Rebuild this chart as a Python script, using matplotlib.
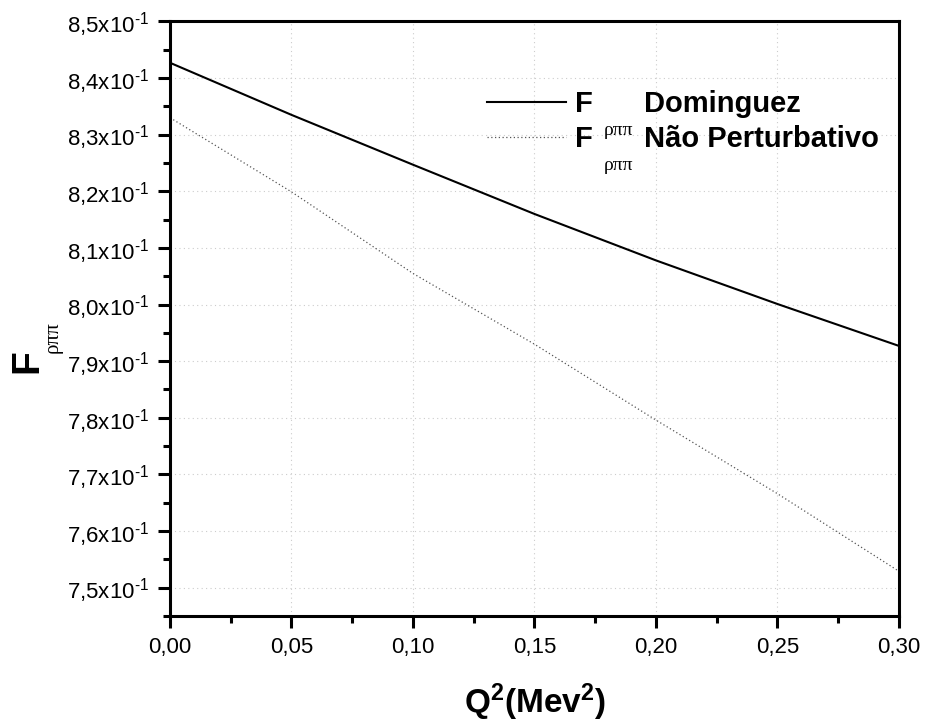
import matplotlib
matplotlib.use("Agg")
import matplotlib.pyplot as plt
from matplotlib.ticker import MultipleLocator, FuncFormatter

# dados
q2 = [0.00, 0.05, 0.10, 0.15, 0.20, 0.25, 0.30]
f_dominguez = [0.8427, 0.8335, 0.8247, 0.8160, 0.8078, 0.8001, 0.7927]
f_nao_pert = [0.8330, 0.8199, 0.8055, 0.7930, 0.7796, 0.7666, 0.7529]
nomes = ['Dominguez', 'Não Perturbativo']

plt.rcParams['font.family'] = ['Liberation Sans', 'DejaVu Sans']
plt.rcParams['mathtext.fontset'] = 'custom'
plt.rcParams['mathtext.rm'] = 'Liberation Sans'
plt.rcParams['mathtext.it'] = 'Liberation Sans:italic'
plt.rcParams['mathtext.bf'] = 'Liberation Sans:bold'
plt.rcParams['mathtext.sf'] = 'Liberation Sans'

fig = plt.figure(figsize=(9.25, 7.27), dpi=100)
ax = fig.add_axes([0.1838, 0.1527, 0.788, 0.8178])

ax.plot(q2, f_dominguez, color='black', lw=1.5, label=nomes[0])
ax.plot(q2, f_nao_pert, color='#555555', lw=0.9, linestyle=(0, (1, 2)), label=nomes[1])

ax.set_xlim(0, 0.30)
ax.set_ylim(0.745, 0.85)

ax.xaxis.set_major_locator(MultipleLocator(0.05))
ax.xaxis.set_minor_locator(MultipleLocator(0.025))
ax.yaxis.set_major_locator(MultipleLocator(0.01))
ax.yaxis.set_minor_locator(MultipleLocator(0.005))

ax.xaxis.set_major_formatter(FuncFormatter(lambda v, p: f"{v:.2f}".replace('.', ',')))
ax.yaxis.set_major_formatter(FuncFormatter(
    lambda v, p: f"{v*10:.1f}".replace('.', ',') + r"x10$^{\text{-1}}$"))

ax.tick_params(axis='both', which='major', direction='out', length=8.6, width=2.2,
               labelsize=16, top=False, right=False)
ax.tick_params(axis='both', which='minor', direction='out', length=5, width=2.2,
               top=False, right=False)
ax.tick_params(axis='x', pad=6.5)
ax.tick_params(axis='y', pad=6.5)

for side in ['left', 'bottom', 'top', 'right']:
    ax.spines[side].set_linewidth(2.2)

ax.grid(True, which='major', color='#cccccc', linestyle=(0, (1, 3)), lw=0.8)

ax.set_xlabel(r'Q$^{\mathbf{2}}$(Mev$^{\mathbf{2}}$)', fontsize=24, fontweight='bold', labelpad=17)

# rótulo do eixo y: F com índice ρππ bem abaixo
ax.text(-0.182, 0.409, 'F', transform=ax.transAxes, rotation=90, rotation_mode='anchor',
        ha='left', va='baseline', fontsize=28, fontweight='bold')
ax.text(-0.1536, 0.442, 'ρππ', transform=ax.transAxes, rotation=90, rotation_mode='anchor',
        ha='left', va='baseline', fontsize=15, family=['Liberation Serif', 'DejaVu Serif'])

leg = ax.legend(loc='upper left', bbox_to_anchor=(0.435, 0.885), frameon=False,
                fontsize=21, handlelength=2.69, handletextpad=2.69, labelspacing=0.25,
                borderpad=0, borderaxespad=0)
for t in leg.get_texts():
    t.set_fontweight('bold')
    ax.annotate('F', xy=(0, 0), xycoords=t, xytext=(-69, 0), textcoords='offset pixels',
                ha='left', va='bottom', fontsize=21, fontweight='bold', zorder=6)
    ax.annotate('ρππ', xy=(0, 0), xycoords=t, xytext=(-40, -21), textcoords='offset pixels',
                ha='left', va='bottom', fontsize=14, zorder=6,
                family=['Liberation Serif', 'DejaVu Serif'])

plt.savefig("out.png", dpi=100)
